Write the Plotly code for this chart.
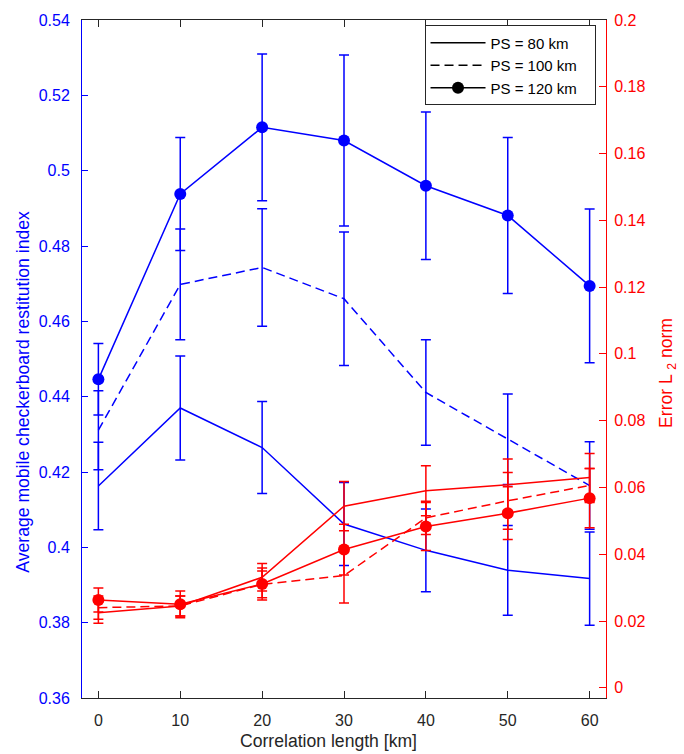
import plotly.graph_objects as go

# ---- data ----
corr_len = [0, 10, 20, 30, 40, 50, 60]

# Average mobile checkerboard restitution index (left axis)
idx_ps80 = [0.4163, 0.4370, 0.4265, 0.4062, 0.3992, 0.3939, 0.3917]
idx_ps80_err = [0.0116, 0.0138, 0.0122, 0.0110, 0.0110, 0.0119, 0.0124]
idx_ps100 = [0.4311, 0.4698, 0.4743, 0.4660, 0.4411, 0.4287, 0.4164]
idx_ps100_err = [0.0105, 0.0147, 0.0156, 0.0177, 0.0140, 0.0120, 0.0116]
idx_ps120 = [0.4446, 0.4938, 0.5115, 0.5080, 0.4960, 0.4881, 0.4694]
idx_ps120_err = [0.0095, 0.0150, 0.0195, 0.0227, 0.0196, 0.0207, 0.0204]

# Error L2 norm (right axis)
err_ps80 = [0.0225, 0.0245, 0.0331, 0.0544, 0.0590, 0.0608, 0.0630]
err_ps80_err = [0.0032, 0.0030, 0.0041, 0.0074, 0.0075, 0.0077, 0.0072]
err_ps100 = [0.0240, 0.0245, 0.0310, 0.0336, 0.0509, 0.0560, 0.0606]
err_ps100_err = [0.0035, 0.0030, 0.0040, 0.0082, 0.0050, 0.0085, 0.0051]
err_ps120 = [0.0263, 0.0250, 0.0311, 0.0414, 0.0483, 0.0523, 0.0568]
err_ps120_err = [0.0036, 0.0040, 0.0048, 0.0076, 0.0072, 0.0079, 0.0089]

legend_names = ["PS = 80 km", "PS = 100 km", "PS = 120 km"]
x_ticks = [0, 10, 20, 30, 40, 50, 60]
left_ticks = [0.36, 0.38, 0.40, 0.42, 0.44, 0.46, 0.48, 0.50, 0.52, 0.54]
right_ticks = [0, 0.02, 0.04, 0.06, 0.08, 0.10, 0.12, 0.14, 0.16, 0.18, 0.20]

x_title = "Correlation length [km]"
left_title = "Average mobile checkerboard restitution index"
right_title = "Error L <sub>2</sub> norm"

BLUE = "#0000FF"
RED = "#FF0000"
DARK = "#262626"
FONT = "Liberation Sans, Arial, Helvetica, sans-serif"
DASH = "9px,5px"
TITLE_SIZE = 17.6

fig = go.Figure()

def add_series(y, err, color, dash, marker, yaxis):
    fig.add_trace(go.Scatter(
        x=corr_len, y=y, yaxis=yaxis,
        mode="lines+markers" if marker else "lines",
        line=dict(color=color, width=1.5, dash=dash),
        marker=dict(size=12, color=color) if marker else None,
        error_y=dict(type="data", array=err, visible=True, color=color,
                     thickness=1.5, width=5),
        showlegend=False, hoverinfo="skip"))

add_series(idx_ps80, idx_ps80_err, BLUE, "solid", False, "y")
add_series(idx_ps100, idx_ps100_err, BLUE, DASH, False, "y")
add_series(idx_ps120, idx_ps120_err, BLUE, "solid", True, "y")
add_series(err_ps80, err_ps80_err, RED, "solid", False, "y2")
add_series(err_ps100, err_ps100_err, RED, DASH, False, "y2")
add_series(err_ps120, err_ps120_err, RED, "solid", True, "y2")

# legend proxies (black)
styles = [("solid", False), (DASH, False), ("solid", True)]
for name, (dash, marker) in zip(legend_names, styles):
    fig.add_trace(go.Scatter(
        x=[None], y=[None], name=name + "\u00a0\u00a0\u00a0",
        mode="lines+markers" if marker else "lines",
        line=dict(color="black", width=1.5, dash=dash),
        marker=dict(size=12, color="black") if marker else None,
        showlegend=True))

fig.update_layout(
    width=684, height=754,
    margin=dict(l=82, r=78, t=14, b=56),
    paper_bgcolor="white", plot_bgcolor="white",
    font=dict(family=FONT, size=16, color=DARK),
    legend=dict(x=0.980, y=0.992, xanchor="right", yanchor="top",
                bgcolor="white", bordercolor=DARK, borderwidth=1,
                font=dict(size=15, color="black"),
                tracegroupgap=0, itemwidth=55),
    xaxis=dict(range=[-2, 62], tickvals=x_ticks, ticks="inside", ticklen=7,
               tickcolor=DARK, showline=True, linecolor=DARK, linewidth=1,
               mirror="ticks", showgrid=False, zeroline=False,
               ticklabelstandoff=8,
               tickfont=dict(size=16, color=DARK)),
    yaxis=dict(range=[0.36, 0.54], tickvals=left_ticks,
               ticktext=[f"{v:g}" for v in left_ticks],
               ticks="inside", ticklen=6, tickcolor=BLUE,
               showline=True, linecolor=BLUE, linewidth=1,
               showgrid=False, zeroline=False, ticklabelstandoff=8,
               tickfont=dict(size=16, color=BLUE)),
    yaxis2=dict(range=[-0.00306, 0.2], tickvals=right_ticks,
                ticktext=[f"{v:g}" for v in right_ticks],
                overlaying="y", side="right", anchor="x",
                ticks="inside", ticklen=7, tickcolor=RED,
                showline=True, linecolor=RED, linewidth=1,
                showgrid=False, zeroline=False, ticklabelstandoff=4,
                tickfont=dict(size=16, color=RED)),
)

# axis titles placed as in the reference
fig.add_annotation(text=x_title, xref="paper", yref="paper",
                   x=(328.5 - 82) / 524, y=(698 - 741) / 684,
                   showarrow=False, xanchor="center", yanchor="middle",
                   font=dict(size=TITLE_SIZE, color=DARK, family=FONT))
fig.add_annotation(text=left_title, xref="paper", yref="paper",
                   x=(23 - 82) / 524, y=(698 - 389) / 684, textangle=-90,
                   showarrow=False, xanchor="center", yanchor="middle",
                   font=dict(size=TITLE_SIZE, color=BLUE, family=FONT))
fig.add_annotation(text=right_title, xref="paper", yref="paper",
                   x=(668 - 82) / 524, y=(698 - 370) / 684, textangle=-90,
                   showarrow=False, xanchor="center", yanchor="middle",
                   font=dict(size=TITLE_SIZE, color=RED, family=FONT))

fig.write_html("out.html")
